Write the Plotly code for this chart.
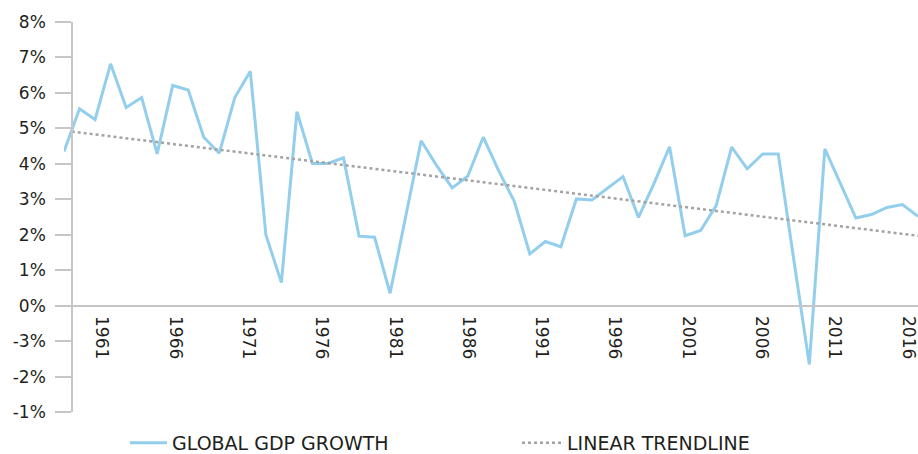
import plotly.graph_objects as go

years = list(range(1961, 2017))
gdp_growth = [4.35, 5.55, 5.25, 6.82, 5.59, 5.87, 4.28, 6.21, 6.08, 4.75,
              4.30, 5.87, 6.61, 2.00, 0.65, 5.47, 4.01, 4.01, 4.17, 1.96,
              1.93, 0.35, 2.50, 4.65, 3.95, 3.32, 3.65, 4.75, 3.80, 2.94,
              1.46, 1.81, 1.66, 3.01, 2.98, 3.30, 3.64, 2.49, 3.45, 4.48,
              1.97, 2.12, 2.82, 4.47, 3.86, 4.28, 4.28, 1.30, -1.66, 4.42,
              3.45, 2.47, 2.57, 2.77, 2.85, 2.52]

trend_years = [1961.5, 2016]
trend_values = [4.91, 1.97]

x_tick_years = [1961, 1966, 1971, 1976, 1981, 1986, 1991, 1996, 2001, 2006, 2011, 2016]
x_tick_labels = [str(y) for y in x_tick_years]

y_tick_vals = [8, 7, 6, 5, 4, 3, 2, 1, 0, -1, -2, -3]
y_tick_text = ["8%", "7%", "6%", "5%", "4%", "3%", "2%", "1%", "0%", "-3%", "-2%", "-1%"]

FONT = "DejaVu Sans"
TXT = "#231F20"
AX = "#C6C6C6"

fig = go.Figure()
fig.add_trace(go.Scatter(
    x=years, y=gdp_growth, mode="lines", name="GLOBAL GDP GROWTH",
    line=dict(color="#93CFEC", width=3), legend="legend", hoverinfo="skip"))
fig.add_trace(go.Scatter(
    x=trend_years, y=trend_values, mode="lines", name="LINEAR TRENDLINE",
    line=dict(color="#A3A3A3", width=2.5, dash="dot"), legend="legend2", hoverinfo="skip"))
# helper trace so the label axis is drawn
fig.add_trace(go.Scatter(
    x=x_tick_years, y=[0] * len(x_tick_years), xaxis="x2", mode="lines",
    line=dict(color="rgba(0,0,0,0)", width=0), showlegend=False, hoverinfo="skip"))

W, H = 918, 454
L, R, T, B = 64, 0, 22, 42
pw = W - L - R
ph = H - T - B

def px_x(p):
    return (p - L) / pw

def px_y(p):
    return (H - B - p) / ph

fig.update_layout(
    width=W, height=H,
    margin=dict(l=L, r=R, t=T, b=B, autoexpand=False),
    paper_bgcolor="white", plot_bgcolor="white",
    font=dict(family=FONT, color=TXT),
    xaxis=dict(range=[1961, 2016], visible=False, showgrid=False, zeroline=False,
               automargin=False),
    xaxis2=dict(overlaying="x", anchor="free", position=3 / 11,
                range=[1958.41, 2016.68], tickmode="array",
                tickvals=x_tick_years, ticktext=x_tick_labels,
                tickangle=90, ticks="", showgrid=False, zeroline=False,
                showline=True, linecolor=AX, linewidth=2,
                tickfont=dict(family=FONT, size=17, color=TXT),
                ticklabelstandoff=6, ticklabeloverflow="allow", automargin=False),
    yaxis=dict(range=[-3, 8], anchor="free", position=px_x(72),
               tickmode="array", tickvals=y_tick_vals, ticktext=y_tick_text,
               ticks="outside", ticklen=16, tickwidth=1.5, tickcolor=AX,
               showline=True, linecolor=AX, linewidth=1.5,
               showgrid=False, zeroline=False,
               tickfont=dict(family=FONT, size=17, color=TXT),
               ticklabelstandoff=6, ticklabeloverflow="allow", automargin=False),
    legend=dict(orientation="h", x=px_x(125), y=px_y(443), xanchor="left", yanchor="middle",
                font=dict(family=FONT, size=19, color=TXT), itemwidth=37,
                bgcolor="rgba(0,0,0,0)"),
    legend2=dict(orientation="h", x=px_x(517), y=px_y(443), xanchor="left", yanchor="middle",
                 font=dict(family=FONT, size=19, color=TXT), itemwidth=40,
                 bgcolor="rgba(0,0,0,0)"),
    showlegend=True,
)

fig.write_html("out.html", config={"displayModeBar": False},
               post_script="document.body.style.margin='0px';")
